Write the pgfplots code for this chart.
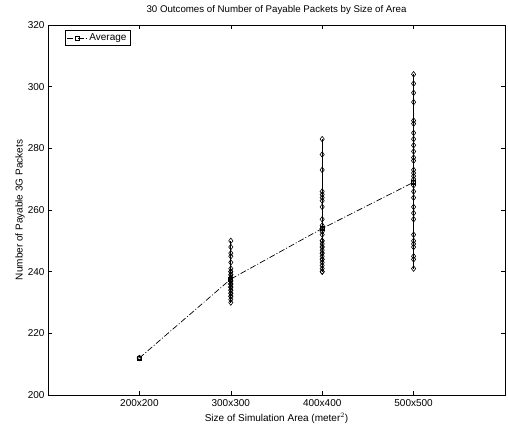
\documentclass[border=0pt]{standalone}
\usepackage{pgfplots}
\pgfplotsset{compat=1.18}
\usepackage{fontspec}
\setmainfont{Liberation Sans}
\begin{document}
\begin{tikzpicture}
\begin{axis}[
    name=ax,
    width=457pt, height=370pt,
    scale only axis,
    clip=false,
    xmin=0, xmax=5,
    xtick={1,2,3,4},
    xticklabels={200x200, 300x300, 400x400, 500x500},
    ymin=200, ymax=320,
    ytick={200,220,...,320},
    xlabel={Size of Simulation Area (meter$^2$)},
    ylabel={Number of Payable 3G Packets},
    title={30 Outcomes of Number of Payable Packets by Size of Area},
    title style={font=\fontsize{9.7}{11}\selectfont, at={(axis description cs:0.5,1)}, anchor=center, yshift=9pt},
    xlabel style={font=\fontsize{10}{12}\selectfont, at={(axis description cs:0.5,0)}, anchor=center, yshift=-23pt},
    ylabel style={font=\fontsize{10}{12}\selectfont, at={(axis description cs:-0.0613,0.5)}, anchor=center},
    tick label style={font=\fontsize{10}{12}\selectfont},
    xticklabel style={yshift=-1pt},
    /pgf/number format/assume math mode=true,
    major tick length=4pt,
    tick style={black, thin},
    axis line style={black, thin},
    legend style={at={(0.0372,0.9865)}, anchor=north west, draw=black, font=\fontsize{10}{12}\selectfont, inner sep=1.5pt, legend cell align=left},
    legend image code/.code={\draw[mark repeat=2,mark phase=2] plot coordinates {(0pt,0pt)(10pt,0pt)(20pt,0pt)};},
]
% average of the 30 runs
\addplot[black, line width=0.7pt, dash pattern=on 6pt off 2pt on 1pt off 2pt, mark=square, mark size=2pt, mark options={solid}] coordinates {
    (1,212) (2,237.6) (3,254) (4,269)
}; \addlegendentry{Average}

% min-max spans
\addplot[black, line width=1.2pt, forget plot] coordinates {(2,230) (2,250)};
\addplot[black, line width=1.2pt, forget plot] coordinates {(3,240) (3,283)};
\addplot[black, line width=1.2pt, forget plot] coordinates {(4,241) (4,304)};

% the 30 outcomes per area
\addplot[only marks, mark=diamond, mark size=2.8pt, black, line width=0.6pt, forget plot] table {
x y
1 212
2 250
2 248
2 246
2 245
2 243
2 241
2 240
2 240
2 239
2 239
2 238
2 238
2 238
2 237
2 237
2 237
2 236
2 236
2 236
2 235
2 235
2 235
2 234
2 234
2 233
2 233
2 232
2 232
2 231
2 230
3 283
3 278
3 273
3 266
3 265
3 264
3 263
3 261
3 257
3 255
3 254
3 253
3 252
3 254
3 250
3 250
3 249
3 248
3 248
3 247
3 246
3 246
3 245
3 244
3 244
3 243
3 242
3 241
3 240
3 240
4 304
4 301
4 298
4 295
4 289
4 288
4 285
4 283
4 281
4 279
4 277
4 276
4 273
4 272
4 271
4 270
4 269
4 268
4 266
4 264
4 261
4 259
4 257
4 252
4 250
4 249
4 248
4 245
4 244
4 241
};
\addplot[only marks, mark=o, mark size=2pt, black, line width=1.2pt, forget plot] coordinates {(1,212)};
\end{axis}
\path (ax.south west) ++(-48pt,-34pt) rectangle ([shift={(3pt,25pt)}]ax.north east);
\end{tikzpicture}
\end{document}
